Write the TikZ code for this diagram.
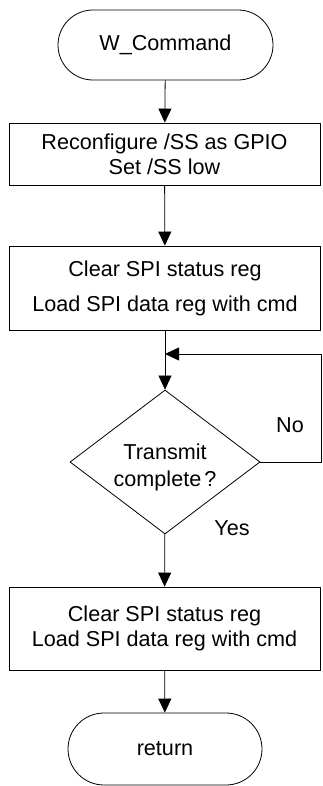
\documentclass[tikz,border=0pt]{standalone}
\usepackage{fontspec}
\setmainfont{Liberation Sans}
\usetikzlibrary{shapes.geometric,arrows.meta}
\begin{document}
\begin{tikzpicture}[x=1pt,y=-1pt,
  every node/.style={font=\fontsize{21.6}{25}\selectfont},
  term/.style={draw,rectangle,rounded corners=35pt,minimum width=215pt,minimum height=70pt,inner sep=0pt},
  proc/.style={draw,rectangle,minimum width=311pt,inner sep=0pt,align=center},
  dec/.style={draw,diamond,minimum width=190pt,minimum height=144pt,aspect=1.32,inner sep=0pt,align=center},
  lbl/.style={inner sep=0pt},
  flow/.style={-{Triangle[width=13pt,length=14pt]},line width=0.8pt},
  line width=0.8pt]
\useasboundingbox (0,0) rectangle (322,786);
\node[term] (start) at (165.5,45) {W\_Command};
\node[proc,minimum height=62pt] (b1) at (164.5,154) {Reconfigure /SS as GPIO\\Set /SS low};
\node[proc,minimum height=84pt,font=\fontsize{21.6}{35}\selectfont] (b2) at (165,288) {Clear SPI status reg\\Load SPI data reg with cmd};
\node[dec] (d) at (165,462) {};
\node[lbl,align=center,font=\fontsize{21.6}{27}\selectfont] (dt) at (165,467) {Transmit\\complete\hspace{3pt}?};
\node[proc,minimum height=83pt] (b3) at (164.5,628.5) {Clear SPI status reg\\Load SPI data reg with cmd};
\node[term,minimum width=194pt,minimum height=72pt,rounded corners=36pt] (ret) at (165,749) {return};
\node[lbl] (no) at (290,425) {No};
\node[lbl] (yes) at (232,528) {Yes};
\coordinate (m) at (165,354);
\coordinate (r1) at (321,462);
\coordinate (r2) at (321,354);
\draw[flow] (start) -- (b1);
\draw[flow] (b1) -- (b2);
\draw[flow] (b2) -- (d);
\draw[flow] (d.east) -- (r1) -- (r2) -- (m);
\draw[flow] (d) -- (b3);
\draw[flow] (b3) -- (ret);
\end{tikzpicture}
\end{document}
